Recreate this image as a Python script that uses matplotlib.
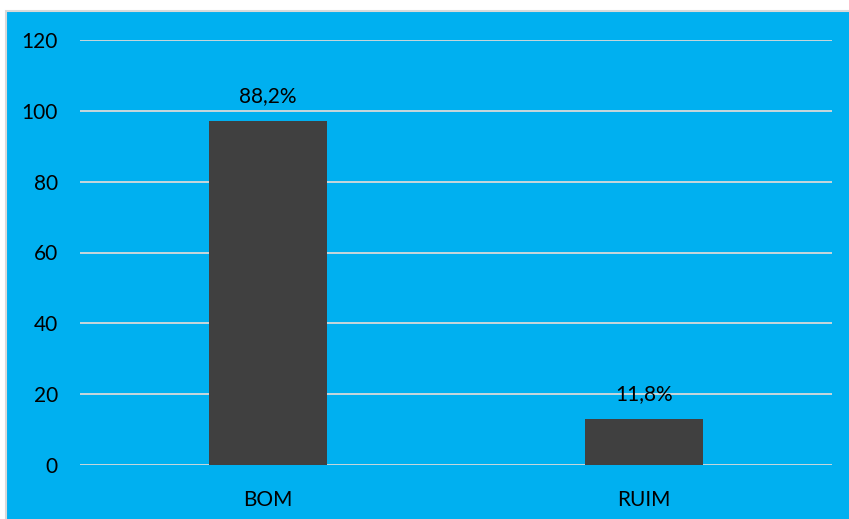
import matplotlib
matplotlib.use("Agg")
import matplotlib.pyplot as plt
from matplotlib.patches import Rectangle

categories = ["BOM", "RUIM"]
counts = [97, 13]
labels = ["88,2%", "11,8%"]
yticks = [0, 20, 40, 60, 80, 100, 120]

plt.rcParams['font.family'] = ['Lato', 'DejaVu Sans']

fig = plt.figure(figsize=(8.49, 5.19), dpi=100, facecolor="white")
bg = Rectangle((6/849, -0.01), 1 - 6/849 + 0.01, (519 - 11) / 519 + 0.01, transform=fig.transFigure,
               facecolor="#00B0F0", edgecolor="#D9D9D9", linewidth=1.5, zorder=-10)
fig.patches.append(bg)

ax = fig.add_axes([80/849, 1 - 465/519, (832 - 80)/849, (465 - 40)/519], zorder=1)
ax.set_facecolor("none")
x = range(len(categories))
bars = ax.bar(x, counts, width=0.314, color="#404040", zorder=3)
ax.set_xlim(-0.5, len(categories) - 0.5)
ax.set_ylim(0, 120)
ax.set_yticks(yticks)
ax.set_yticklabels([str(t) for t in yticks])
ax.set_xticks(list(x))
ax.set_xticklabels(categories)
ax.yaxis.grid(True, color="#D9D9D9", linewidth=1.3, zorder=1)
ax.set_axisbelow(True)
for s in ax.spines.values():
    s.set_visible(False)
ax.tick_params(axis="y", length=0, pad=16, labelsize=15, colors="black")
ax.tick_params(axis="x", length=0, pad=18, labelsize=15, colors="black")

for b, lab in zip(bars, labels):
    ax.annotate(lab, (b.get_x() + b.get_width()/2, b.get_height()),
                xytext=(0, 11), textcoords="offset points",
                ha="center", va="bottom", fontsize=15, color="black")

fig.savefig("out.png", dpi=100, facecolor="white")
